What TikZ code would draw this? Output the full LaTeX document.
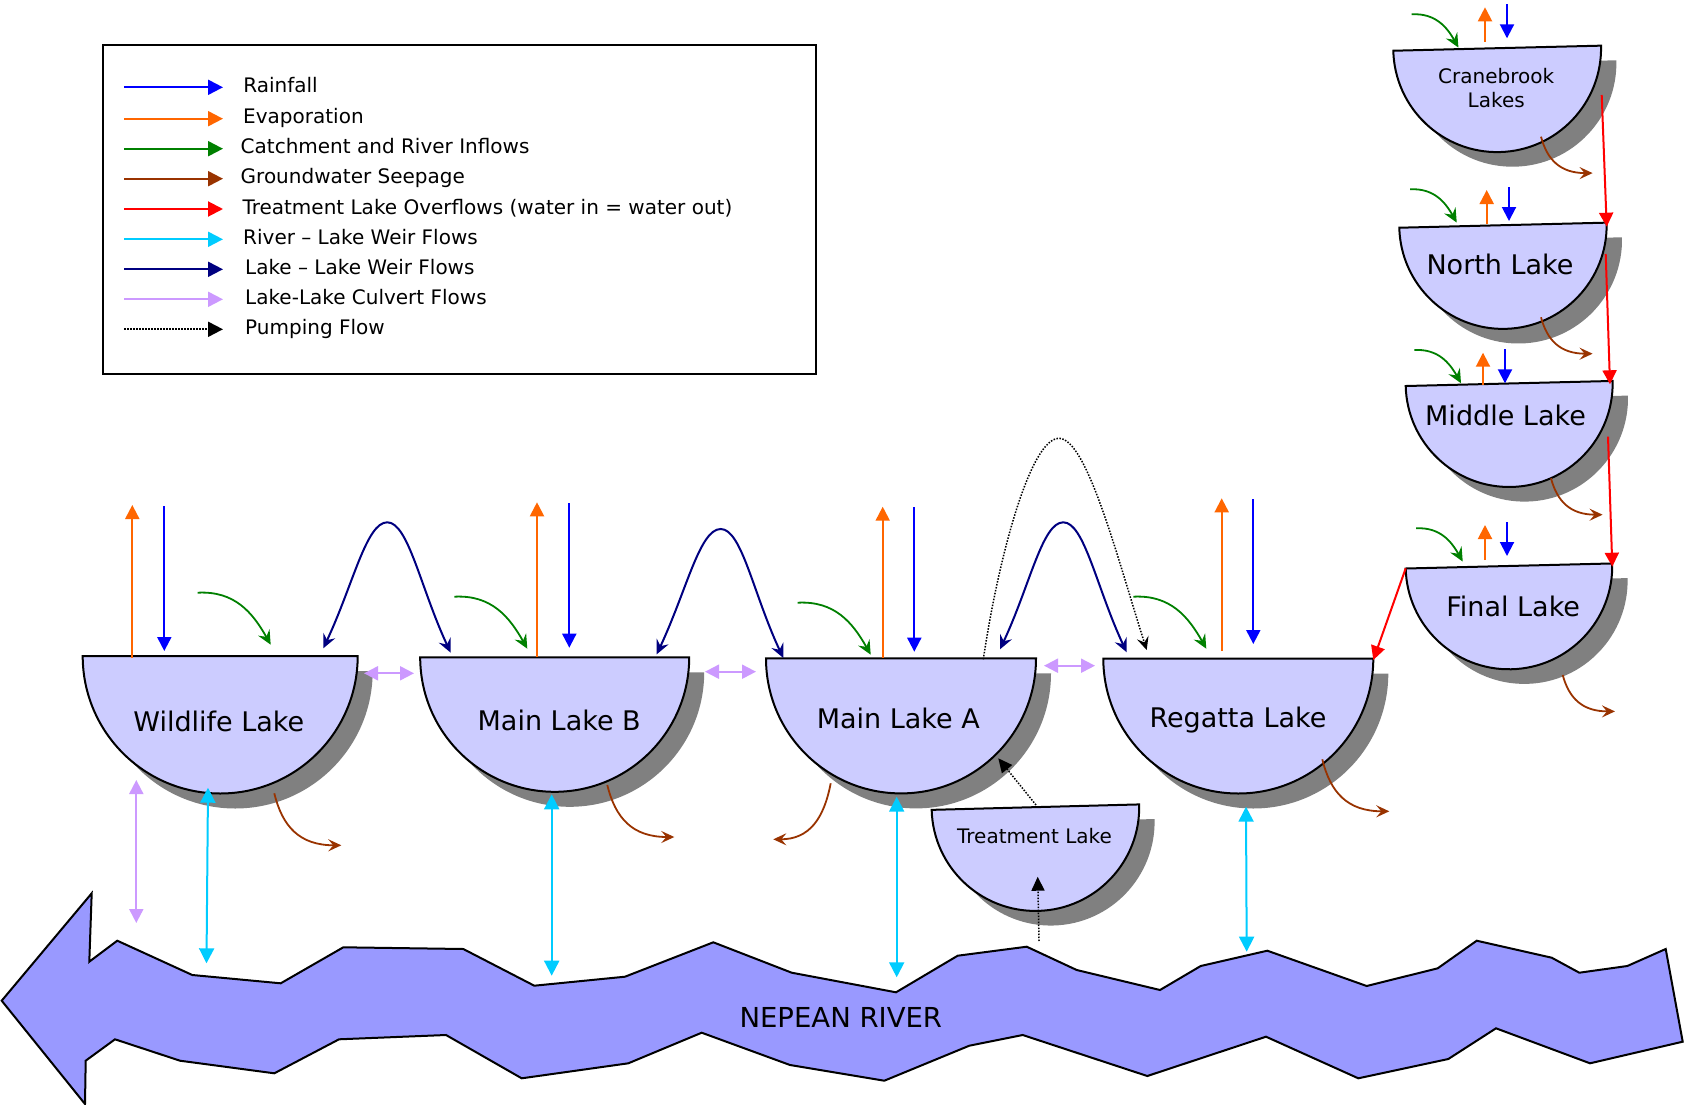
\documentclass[tikz,border=0pt]{standalone}
\usepackage{fontspec}
\setmainfont{DejaVu Sans}
\usetikzlibrary{arrows.meta,calc}
\definecolor{rainc}{RGB}{0,0,255}
\definecolor{evapc}{RGB}{255,102,0}
\definecolor{catchc}{RGB}{0,128,0}
\definecolor{gwc}{RGB}{153,51,0}
\definecolor{treatc}{RGB}{255,0,0}
\definecolor{riverc}{RGB}{0,204,255}
\definecolor{weirc}{RGB}{0,0,128}
\definecolor{culvc}{RGB}{204,153,255}
\definecolor{lakefill}{RGB}{204,204,255}
\definecolor{riverfill}{RGB}{153,153,255}
\definecolor{shadowc}{RGB}{128,128,128}
\tikzset{
  every node/.style={inner sep=0pt},
  vline/.style={line width=2pt},
  rainf/.style={vline, draw=rainc, -{Triangle[length=14pt,width=14pt]}},
  evapf/.style={vline, draw=evapc, -{Triangle[length=14pt,width=14pt]}},
  rivf/.style={vline, draw=riverc, {Triangle[length=15pt,width=15pt]}-{Triangle[length=15pt,width=15pt]}},
  culvf/.style={vline, draw=culvc, {Triangle[length=14pt,width=14pt]}-{Triangle[length=14pt,width=14pt]}},
  overf/.style={vline, draw=treatc, -{Triangle[length=14pt,width=14pt]}},
  catchf/.style={line width=1.8pt, draw=catchc, -{Stealth[length=14pt,width=13pt,inset=5pt]}},
  gwf/.style={line width=1.8pt, draw=gwc, -{Stealth[length=13pt,width=12pt,inset=5pt]}},
  weirf/.style={line width=2pt, draw=weirc, {Stealth[length=14pt,width=13pt,inset=5pt]}-{Stealth[length=14pt,width=13pt,inset=5pt]}},
  pumpf/.style={line width=1.5pt, draw=black, dash pattern=on 1.5pt off 1.5pt, -{Stealth[length=13pt,width=12pt,inset=5pt]}},
  pumptri/.style={line width=1.5pt, draw=black, dash pattern=on 1.5pt off 1.5pt, -{Triangle[length=14pt,width=13pt]}},
  legarrow/.style={line width=2pt, -{Triangle[length=15pt,width=15pt]}},
  legtext/.style={anchor=base west, font=\fontsize{20}{24}\selectfont},
  bigtext/.style={anchor=base, font=\fontsize{27}{32}\selectfont},
  smalltext/.style={anchor=base, font=\fontsize{20}{24}\selectfont},
  catchpic/.pic={\draw[catchf] (0,0) .. controls (37,-2) and (55,20) .. (73,52);},
  gwpic/.pic={\draw[gwf] (0,0) .. controls (8,33) and (25,52) .. (67,52);}
}
\newcommand\drawlake[5]{%
  \coordinate (#1) at (#2,#3);
  \begin{scope}[rotate around={#5:(#1)}]
    \fill[shadowc] ($(#1)+(-#4+15,15)$) arc[start angle=180,end angle=360,radius=#4pt] -- cycle;
    \filldraw[fill=lakefill,draw=black,line width=2pt] ($(#1)+(-#4,0)$) arc[start angle=180,end angle=360,radius=#4pt] -- cycle;
  \end{scope}}
% weir arc: start, apex, end (named coordinates)
\newcommand\weirarc[3]{%
  \draw[weirf] (#1) .. controls +(30,-64) and +(-21,0) .. (#2)
     .. controls +(21,0) and +(-30,-64) .. (#3);}
\begin{document}
\begin{tikzpicture}[x=1pt,y=-1pt]
\useasboundingbox (0,0) rectangle (1684,1105);
\fill[white] (0,0) rectangle (1684,1105);

% ---------- legend ----------
\draw[line width=2pt] (102.7,44.7) rectangle (816,374.3);
\foreach \yy/\cc/\tx/\lbl [count=\i] in {
  87.3/rainc/243.2/Rainfall,
  118.7/evapc/243/Evaporation,
  148.7/catchc/240.5/Catchment and River Inflows,
  178.7/gwc/240.5/Groundwater Seepage,
  209/treatc/242.3/Treatment Lake Overflows (water in = water out),
  239.3/riverc/243/River – Lake Weir Flows,
  269.3/weirc/245/Lake – Lake Weir Flows,
  299.3/culvc/245/Lake-Lake Culvert Flows}{
  \draw[legarrow, draw=\cc] (124,\yy) -- (223,\yy);
  \node[legtext] (leg\i) at (\tx,\yy+5) {\lbl};
}
\draw[legarrow, dash pattern=on 1.5pt off 1.5pt] (124,329.3) -- (223,329.3);
\node[legtext] (leg9) at (245,334.3) {Pumping Flow};

% ---------- river ----------
\filldraw[fill=riverfill, draw=black, line width=2pt, line join=miter]
 (91.7,893.3) -- (89.3,961.7) -- (117.3,940.7) -- (192.3,975) -- (280.7,983.3) -- (343.3,947.3)
 -- (463.3,949) -- (534.3,985.7) -- (625,976.7) -- (713.3,942.3) -- (791.7,972.7) -- (896,992.3)
 -- (957.7,955.7) -- (1026.7,946.7) -- (1076.7,970) -- (1160,990) -- (1200.7,966) -- (1267.3,950.7)
 -- (1366.7,986) -- (1437.7,968.3) -- (1476.7,940.7) -- (1551.7,957.7) -- (1579.3,972.7)
 -- (1627.3,966) -- (1665.7,949) -- (1682.7,1041.7) -- (1590,1063.3) -- (1496,1028.3)
 -- (1448.3,1059) -- (1358.3,1078.3) -- (1266,1036.7) -- (1147.3,1076) -- (1022.7,1035)
 -- (969.3,1045.7) -- (884.3,1080.7) -- (790,1065) -- (701.7,1032.7) -- (628.3,1063.3)
 -- (521.7,1078.3) -- (446,1035) -- (339,1039.3) -- (274.3,1073.3) -- (180,1060.7)
 -- (115,1039.3) -- (85.7,1060.7) -- (85,1104) -- (1.7,1000.7) -- cycle;
\node[bigtext, font=\fontsize{27.5}{32}\selectfont] (river) at (840.8,1027.3) {NEPEAN RIVER};

% ---------- lakes ----------
\drawlake{wl}{220.2}{656}{137.5}{0}
\drawlake{mlb}{554.7}{657.3}{134.5}{0}
\drawlake{mla}{901}{658.4}{135}{0}
\drawlake{tl}{1035.5}{807.2}{103.8}{1.5}
\drawlake{rl}{1238.3}{658.5}{135}{0}
\drawlake{cl}{1497.2}{48.2}{103.9}{1.4}
\drawlake{nl}{1503}{225.2}{103.7}{1.4}
\drawlake{ml}{1509.2}{383.5}{103.5}{1.4}
\drawlake{fl}{1509}{566}{103.3}{1.4}

\node[bigtext] (wlt) at (218.8,731.7) {Wildlife Lake};
\node[bigtext] (mlbt) at (559.2,730.7) {Main Lake B};
\node[bigtext] (mlat) at (898.3,728.3) {Main Lake A};
\node[bigtext] (rlt) at (1238,727.3) {Regatta Lake};
\node[smalltext] (tlt) at (1034.5,843.3) {Treatment Lake};
\node[anchor=south, align=center, text depth=0pt, font=\fontsize{20}{24.4}\selectfont] (clt) at (1496.2,107.7) {Cranebrook\\Lakes};
\node[bigtext] (nlt) at (1500,274) {North Lake};
\node[bigtext] (mlt) at (1505.5,425) {Middle Lake};
\node[bigtext] (flt) at (1513.2,616.7) {Final Lake};

% ---------- weir connection points ----------
\coordinate (w1s) at (323.3,648.3);  \coordinate (w1a) at (387.3,522.3);  \coordinate (w1e) at (450.7,652.7);
\coordinate (w2s) at (656.7,654.3);  \coordinate (w2a) at (720.7,529);    \coordinate (w2e) at (783.3,658);
\coordinate (w3s) at (1000,649.3);   \coordinate (w3a) at (1063.3,522.3); \coordinate (w3e) at (1126.7,652.3);

% ---------- Wildlife Lake ----------
\draw[evapf] (132.3,658) -- (132.3,505);
\draw[rainf] (164.3,506) -- (164.3,651);
\pic at (197.7,592.7) {catchpic};
\pic at (274.3,793.3) {gwpic};
\draw[culvf] (136.3,780) -- (136.3,923);
\draw[rivf] (208,787.7) -- (206.5,963.3);
\draw[culvf] (364,673.3) -- (414,673.3);
\weirarc{w1s}{w1a}{w1e}

% ---------- Main Lake B ----------
\draw[evapf] (537,657) -- (537,502.3);
\draw[rainf] (569.3,503.3) -- (569.3,647.7);
\pic at (454.3,596.7) {catchpic};
\pic at (607.3,785) {gwpic};
\draw[rivf] (551.7,794.3) -- (551.7,975.7);
\draw[culvf] (705,671.7) -- (756,671.7);
\weirarc{w2s}{w2a}{w2e}

% ---------- Main Lake A ----------
\draw[evapf] (882.7,658) -- (882.7,506.7);
\draw[rainf] (914.3,507.3) -- (914.3,651.7);
\pic at (797.7,602.7) {catchpic};
\pic[xscale=-0.857,yscale=1.077] at (830.7,783.3) {gwpic};
\draw[rivf] (896.7,796.7) -- (896.7,977.3);
\draw[culvf] (1044,665.7) -- (1095,665.7);
\weirarc{w3s}{w3a}{w3e}
\draw[pumpf] (983.3,659.3) .. controls (998,560) and (1030,438.3) .. (1059,438.3)
   .. controls (1087,438.3) and (1118,560) .. (1146.7,650);
\draw[pumptri] (1036,805) -- (998.3,758.3);
\draw[pumptri] (1039,941) -- (1037.7,876.7);

% ---------- Regatta Lake ----------
\draw[evapf] (1221.7,651) -- (1221.7,498.3);
\draw[rainf] (1253.3,499.3) -- (1253.3,644);
\pic at (1133.3,596.7) {catchpic};
\pic at (1322.3,759.3) {gwpic};
\draw[rivf] (1246,806.7) -- (1246.7,951.7);
\draw[overf] (1405.7,568.3) -- (1373.3,660);

% ---------- Cranebrook / North / Middle / Final ----------
\draw[evapf] (1485,41.7) -- (1485,7.3);
\draw[rainf] (1507,4.3) -- (1507,38.3);
\pic[scale=0.64] at (1411.7,14.3) {catchpic};
\pic[xscale=0.77,yscale=0.7] at (1541,136.7) {gwpic};
\draw[overf] (1601.7,95) -- (1606.7,226.7);

\draw[evapf] (1486.7,224.3) -- (1486.7,190);
\draw[rainf] (1509,187.3) -- (1509,221);
\pic[scale=0.64] at (1410,189.3) {catchpic};
\pic[xscale=0.77,yscale=0.7] at (1541,317.3) {gwpic};
\draw[overf] (1605.7,254) -- (1610,384.3);

\draw[evapf] (1483,385) -- (1483,352.7);
\draw[rainf] (1505,349.3) -- (1505,383.3);
\pic[scale=0.64] at (1414.3,350) {catchpic};
\pic[xscale=0.77,yscale=0.7] at (1551,478.3) {gwpic};
\draw[overf] (1608,436.7) -- (1612.3,566.7);

\draw[evapf] (1485,560) -- (1485,525);
\draw[rainf] (1507,522.3) -- (1507,556);
\pic[scale=0.64] at (1416,528.3) {catchpic};
\pic[xscale=0.78,yscale=0.7] at (1562.7,675) {gwpic};
\end{tikzpicture}
\end{document}
